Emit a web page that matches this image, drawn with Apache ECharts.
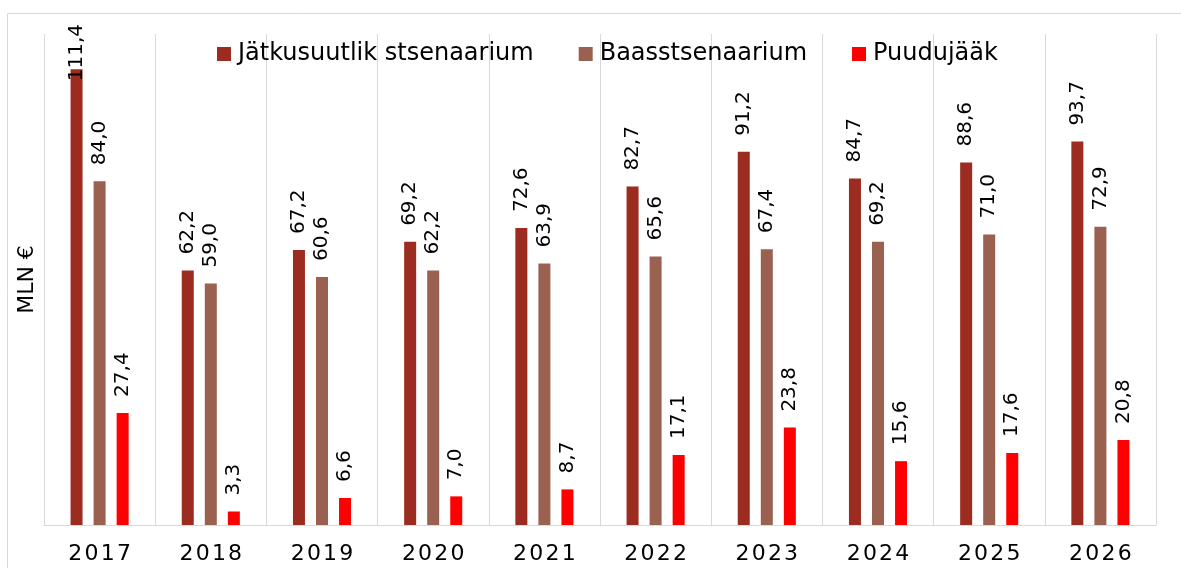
<!DOCTYPE html>
<html><head><meta charset="utf-8">
<script src="https://cdn.jsdelivr.net/npm/echarts@6/dist/echarts.min.js"></script>
<style>html,body{margin:0;padding:0;background:#fff}#c{width:1181px;height:568px}</style>
</head><body><div id="c"></div>
<script>
const categories = ['2017','2018','2019','2020','2021','2022','2023','2024','2025','2026'];
const jatkusuutlik = [111.4,62.2,67.2,69.2,72.6,82.7,91.2,84.7,88.6,93.7];
const baas = [84.0,59.0,60.6,62.2,63.9,65.6,67.4,69.2,71.0,72.9];
const puudujaak = [27.4,3.3,6.6,7.0,8.7,17.1,23.8,15.6,17.6,20.8];
const seriesNames = ['Jätkusuutlik stsenaarium','Baasstsenaarium','Puudujääk'];
const colors = ['#9C2B20','#9A6150','#FF0000'];
const font = '"DejaVu Sans", Verdana, sans-serif';
const yMax = 120;

const chart = echarts.init(document.getElementById('c'));
function mk(i, data) {
  return { name: seriesNames[i], type: 'bar', barWidth: 12, barGap: '92%',
    data: data.map(v => v > 105 ? { value: v, label: { distance: -12 } } : v),
    itemStyle: { color: colors[i] },
    label: {
      show: true, position: 'top', rotate: 90, align: 'left', verticalAlign: 'middle',
      distance: 16, color: '#000', fontSize: 20, fontFamily: font,
      formatter: p => p.value.toFixed(1).replace('.', ',')
    }
  };
}
chart.setOption({
  animation: false,
  textStyle: { fontFamily: font },
  graphic: [{ type: 'rect', z: -10, shape: { x: 7.5, y: 13.5, width: 1200, height: 600 },
    style: { fill: 'none', stroke: '#d9d9d9', lineWidth: 1 } }],
  legend: {
    top: 37, left: 212, itemWidth: 14, itemHeight: 14, itemGap: 45, icon: 'rect',
    textStyle: { fontSize: 24, color: '#000', fontFamily: font, padding: [0, 0, 0, 2] }
  },
  grid: { left: 44, right: 25, top: 34, bottom: 43 },
  xAxis: {
    type: 'category', data: categories,
    axisLine: { lineStyle: { color: '#d9d9d9', width: 1 } },
    axisTick: { show: false },
    splitLine: { show: true, lineStyle: { color: '#d9d9d9', width: 1 } },
    axisLabel: { color: '#000', fontSize: 22, fontFamily: font, margin: 18,
      formatter: v => v.split('').join('\u200a') }
  },
  yAxis: {
    type: 'value', min: 0, max: yMax,
    name: 'MLN €', nameLocation: 'middle', nameGap: 6, nameRotate: 90,
    nameTextStyle: { fontSize: 22, color: '#000', fontFamily: font },
    axisLabel: { show: false }, axisLine: { show: false }, axisTick: { show: false },
    splitLine: { show: false }
  },
  series: [mk(0, jatkusuutlik), mk(1, baas), mk(2, puudujaak)]
});
</script></body></html>
